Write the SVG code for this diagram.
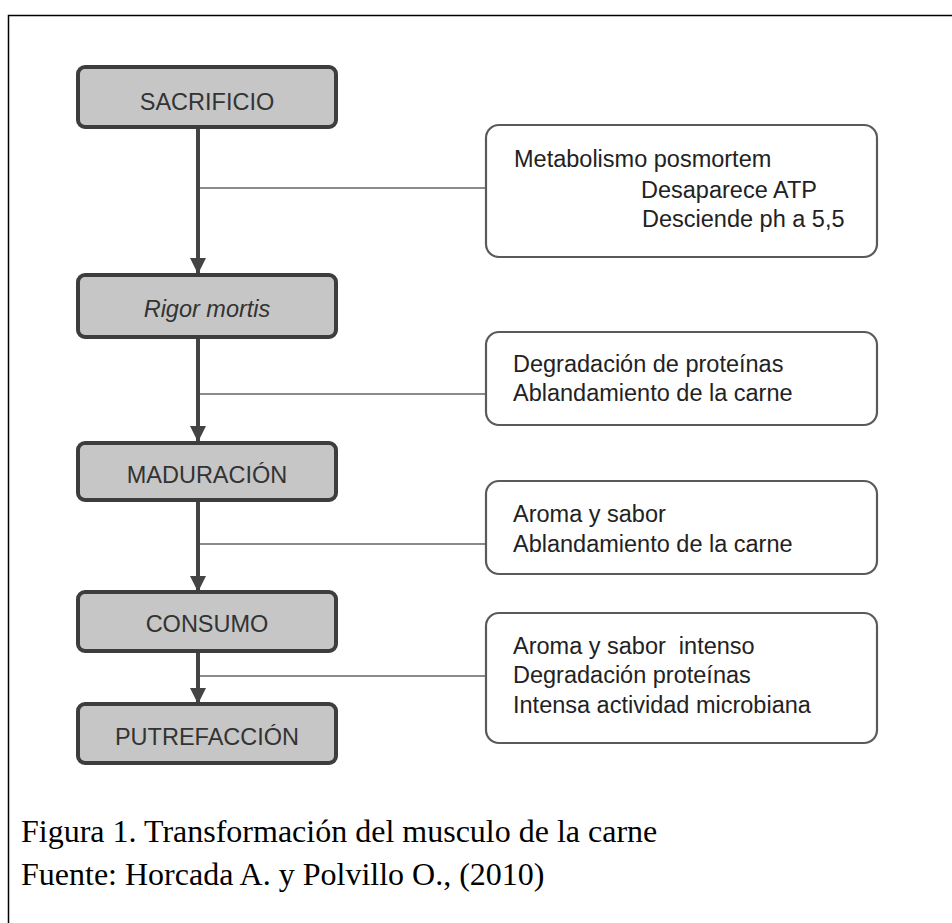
<svg xmlns="http://www.w3.org/2000/svg" width="952" height="923" viewBox="0 0 952 923">
<defs>
<style>
.stage rect{fill:#c6c6c6;stroke:#3d3d3d;stroke-width:4}
.stage text{font-family:"Liberation Sans",Arial,sans-serif;font-size:23.5px;fill:#333;text-anchor:middle}
.note rect{fill:#ffffff;stroke:#5a5a5a;stroke-width:2.2}
.note text{font-family:"Liberation Sans",Arial,sans-serif;font-size:23.5px;fill:#222}
.main{stroke:#444;stroke-width:4;fill:none}
.branch{stroke:#8a8a8a;stroke-width:2;fill:none}
.cap{font-family:"Liberation Serif","Times New Roman",serif;font-size:32px;fill:#000}
</style>
<marker id="ah" viewBox="0 0 16 16" refX="16" refY="8" markerWidth="16" markerHeight="16" markerUnits="userSpaceOnUse" orient="auto">
<path d="M0,0 L16,8 L0,16 Z" fill="#444"/>
</marker>
</defs>
<rect x="0" y="0" width="952" height="923" fill="#fff"/>
<path d="M8.5,923 V15.5 H952" fill="none" stroke="#000" stroke-width="1.5"/>

<g id="connectors">
<line class="main" x1="198" y1="127" x2="198" y2="274" marker-end="url(#ah)"/>
<line class="main" x1="198" y1="338" x2="198" y2="442" marker-end="url(#ah)"/>
<line class="main" x1="198" y1="500" x2="198" y2="592" marker-end="url(#ah)"/>
<line class="main" x1="198" y1="651" x2="198" y2="704" marker-end="url(#ah)"/>
<line class="branch" x1="200" y1="188" x2="486" y2="188"/>
<line class="branch" x1="200" y1="394" x2="486" y2="394"/>
<line class="branch" x1="200" y1="544" x2="486" y2="544"/>
<line class="branch" x1="200" y1="676" x2="486" y2="676"/>
</g>

<g id="sacrificio" class="stage">
<rect x="78" y="67" width="258" height="60" rx="7"/>
<text x="207" y="110">SACRIFICIO</text>
</g>
<g id="rigor" class="stage">
<rect x="78" y="275" width="258" height="62" rx="7"/>
<text x="207" y="317" font-style="italic">Rigor mortis</text>
</g>
<g id="maduracion" class="stage">
<rect x="78" y="443" width="258" height="57" rx="7"/>
<text x="207" y="483">MADURACIÓN</text>
</g>
<g id="consumo" class="stage">
<rect x="78" y="592" width="258" height="59" rx="7"/>
<text x="207" y="632">CONSUMO</text>
</g>
<g id="putrefaccion" class="stage">
<rect x="78" y="704" width="258" height="59" rx="7"/>
<text x="207" y="745">PUTREFACCIÓN</text>
</g>

<g id="nota1" class="note">
<rect x="486" y="125" width="391" height="132" rx="13"/>
<text x="514" y="167">Metabolismo posmortem</text>
<text x="641" y="198">Desaparece ATP</text>
<text x="642" y="227">Desciende ph a 5,5</text>
</g>
<g id="nota2" class="note">
<rect x="486" y="332" width="391" height="93" rx="13"/>
<text x="513" y="372">Degradación de proteínas</text>
<text x="513" y="401">Ablandamiento de la carne</text>
</g>
<g id="nota3" class="note">
<rect x="486" y="481" width="391" height="93" rx="13"/>
<text x="513" y="522">Aroma y sabor</text>
<text x="513" y="552">Ablandamiento de la carne</text>
</g>
<g id="nota4" class="note">
<rect x="486" y="613" width="391" height="130" rx="13"/>
<text x="513" y="654" xml:space="preserve">Aroma y sabor  intenso</text>
<text x="513" y="683">Degradación proteínas</text>
<text x="513" y="713">Intensa actividad microbiana</text>
</g>

<text class="cap" x="21" y="842">Figura 1. Transformación del musculo de la carne</text>
<text class="cap" x="21" y="885">Fuente: Horcada A. y Polvillo O., (2010)</text>
</svg>
